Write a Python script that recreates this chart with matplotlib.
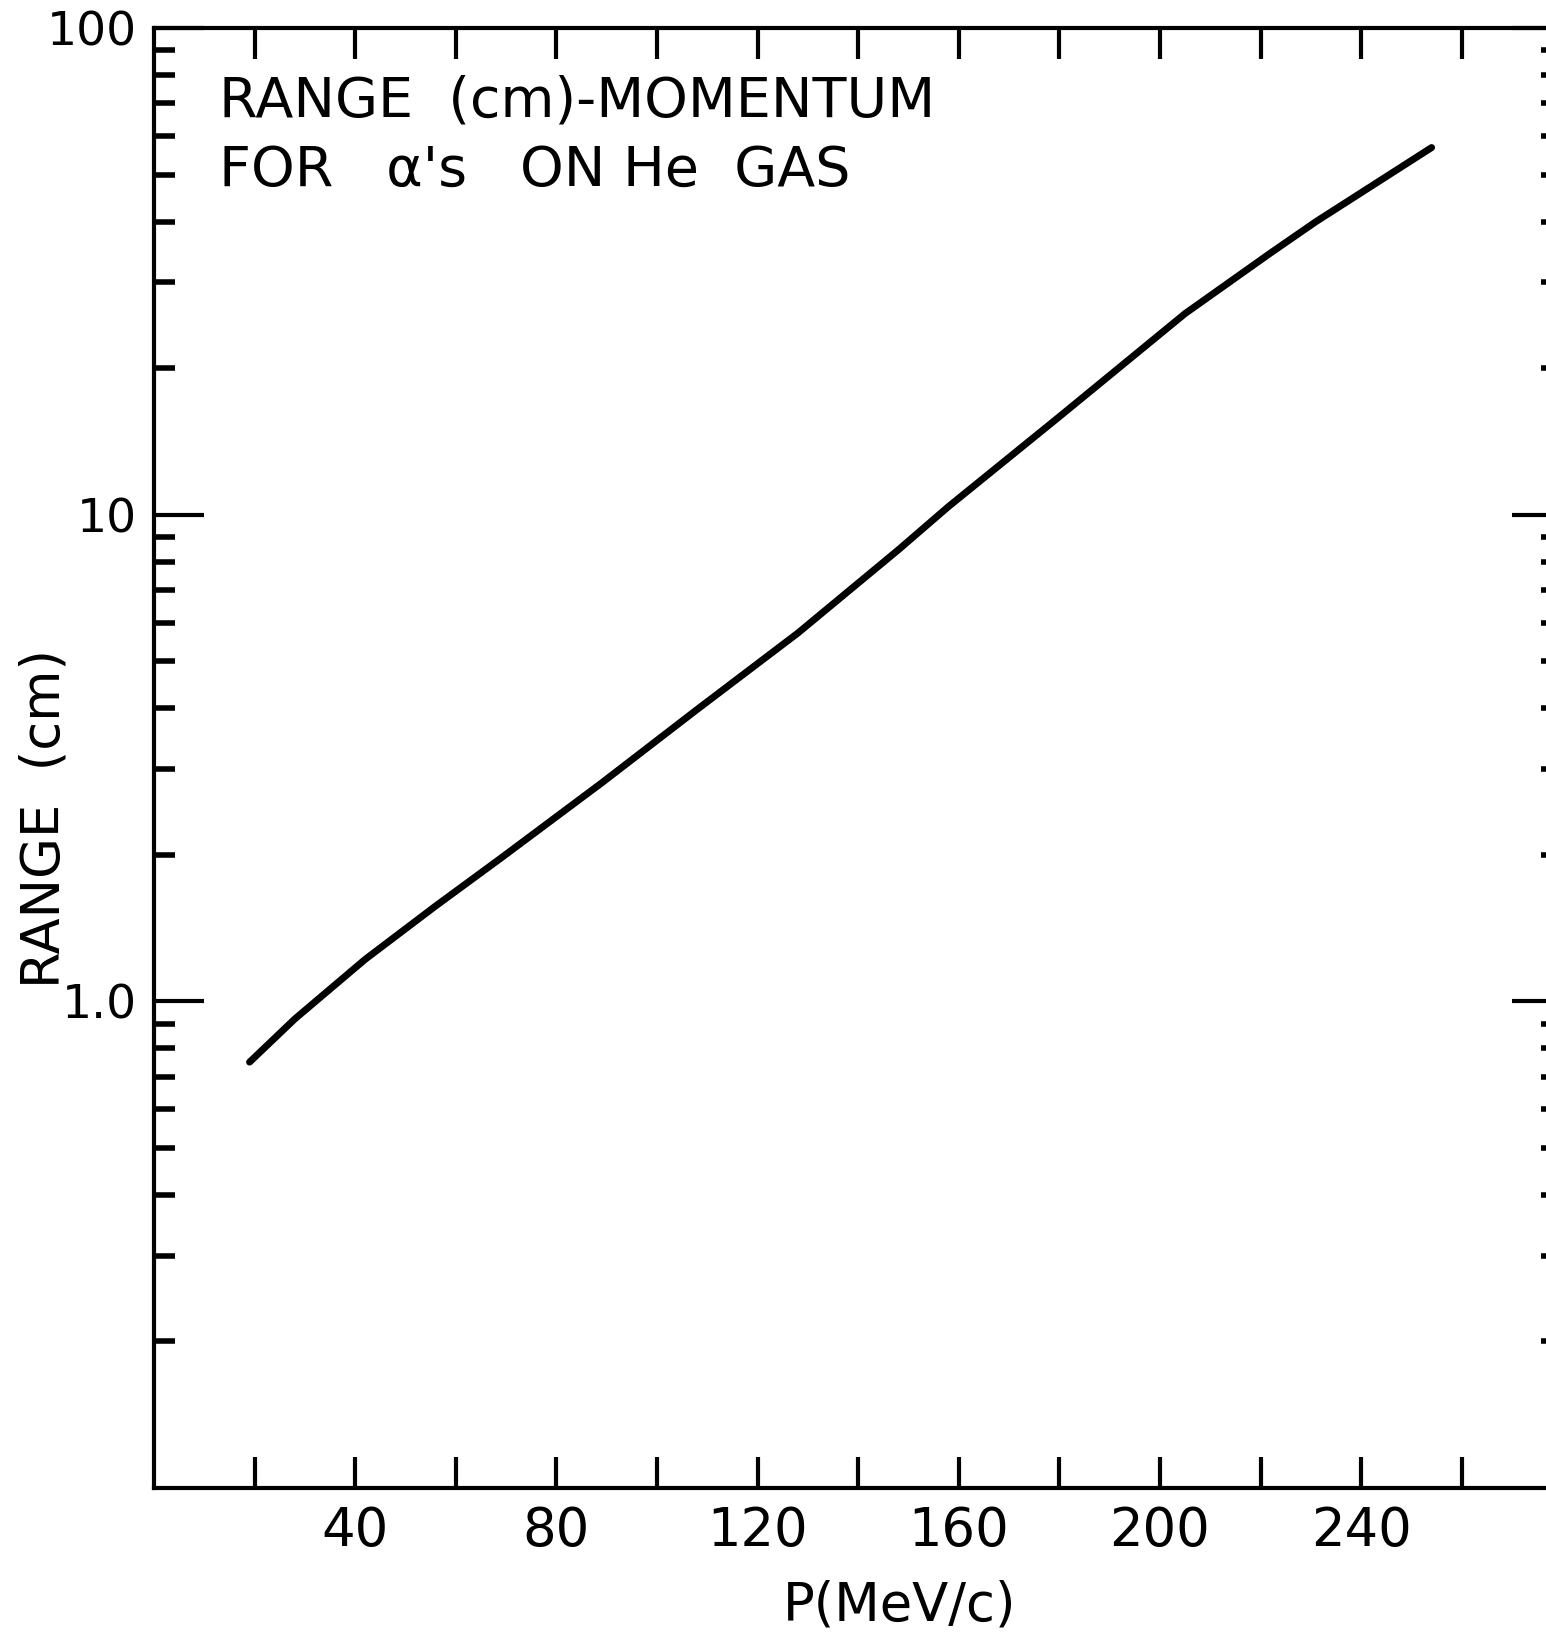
import numpy as np
import matplotlib
matplotlib.use("Agg")
import matplotlib.pyplot as plt
from matplotlib.ticker import FixedLocator, LogLocator, NullFormatter, FixedFormatter

# Datos (P en MeV/c, alcance en cm)
momentum = [19, 28, 42, 56, 69, 89, 108, 128, 148, 158, 180, 205, 222, 231, 254]
range_cm = [0.75, 0.92, 1.22, 1.57, 1.97, 2.81, 3.98, 5.71, 8.47, 10.4, 15.9, 25.9, 34.5, 40.0, 56.8]

x_ticks = [20, 40, 60, 80, 100, 120, 140, 160, 180, 200, 220, 240, 260]
x_ticklabels = ["", "40", "", "80", "", "120", "", "160", "", "200", "", "240", ""]
y_ticks = [1.0, 10, 100]
y_ticklabels = ["1.0", "10", "100"]

title_lines = ["RANGE  (cm)-MOMENTUM", "FOR   \u03b1's   ON He  GAS"]

plt.rcParams["font.family"] = ["DejaVu Sans"]

fig = plt.figure(figsize=(15.46, 16.38), dpi=100)
ax = fig.add_axes([0.0996, 0.0916, 0.911, 0.8913])

ax.plot(momentum, range_cm, color="black", lw=5, solid_capstyle="round",
        solid_joinstyle="round")

ax.set_yscale("log")
ax.set_xlim(0, 280)
ax.set_ylim(0.1, 100)

ax.xaxis.set_major_locator(FixedLocator(x_ticks))
ax.xaxis.set_major_formatter(FixedFormatter(x_ticklabels))
ax.yaxis.set_major_locator(FixedLocator(y_ticks))
ax.yaxis.set_major_formatter(FixedFormatter(y_ticklabels))
ax.yaxis.set_minor_locator(LogLocator(base=10, subs=np.arange(2, 10)))
ax.yaxis.set_minor_formatter(NullFormatter())

ax.tick_params(axis="x", which="major", direction="in", top=True, length=22,
               width=3, labelsize=38, pad=12)
ax.tick_params(axis="y", which="major", direction="in", right=True, length=36,
               width=3, labelsize=34, pad=12)
ax.tick_params(axis="y", which="minor", direction="in", right=True, length=15, width=4)

for sp in ax.spines.values():
    sp.set_linewidth(3)

ax.text(0.046, 0.968, title_lines[0], transform=ax.transAxes, fontsize=40,
        ha="left", va="top")
ax.text(0.046, 0.921, title_lines[1], transform=ax.transAxes, fontsize=40,
        ha="left", va="top")

fig.text(0.582, 0.020, "P(MeV/c)", fontsize=38, ha="center", va="center")
fig.text(0.029, 0.50, "RANGE  (cm)", fontsize=38, ha="center", va="center",
         rotation=90)

fig.savefig("out.png", dpi=100, facecolor="white")
